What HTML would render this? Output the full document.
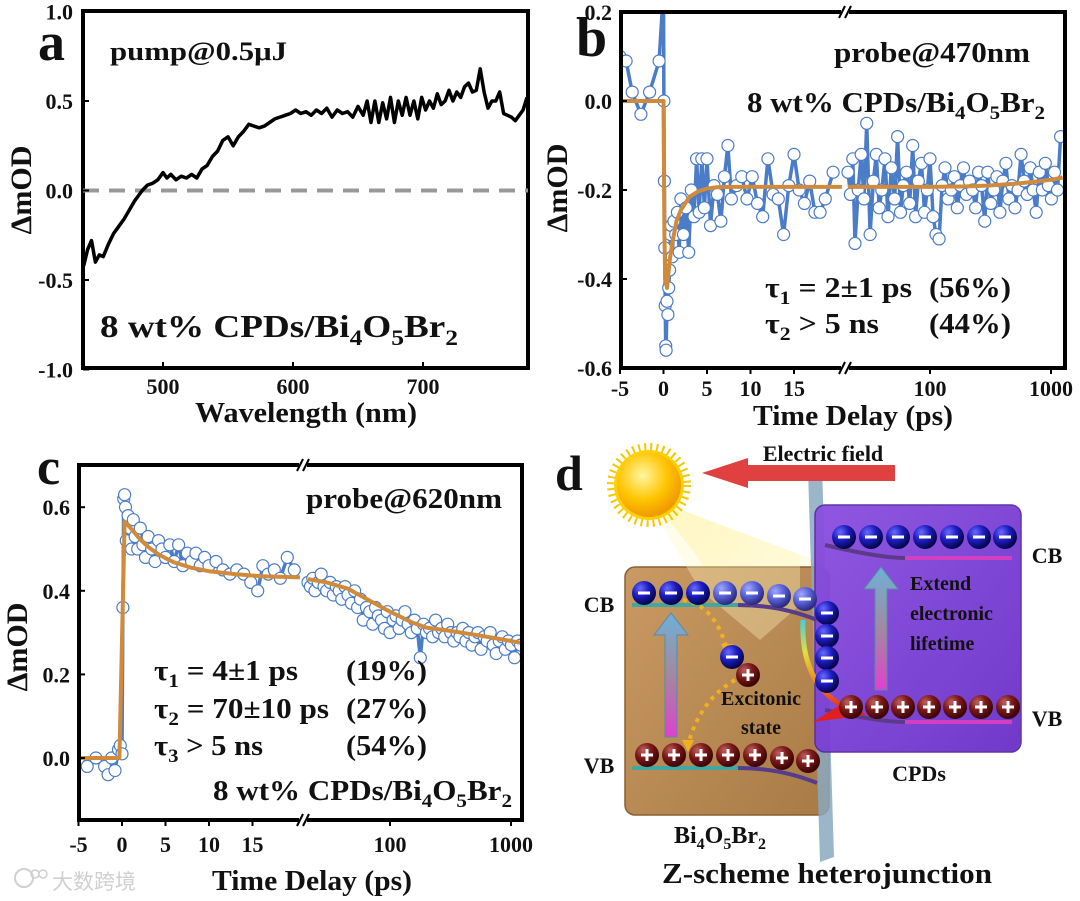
<!DOCTYPE html>
<html><head><meta charset="utf-8"><style>
html,body{margin:0;padding:0;background:#fff}
svg{display:block}
text{font-family:"Liberation Serif","Noto Serif CJK SC",serif;font-weight:bold;fill:#111}
</style></head><body>
<svg id="fig" width="1080" height="901" viewBox="0 0 1080 901" xmlns="http://www.w3.org/2000/svg">
<defs>
<clipPath id="clipA"><rect x="83" y="11" width="445" height="357"/></clipPath>
<clipPath id="clipB"><rect x="621" y="12" width="444" height="356"/></clipPath>
<clipPath id="clipC"><rect x="79" y="465" width="443" height="355"/></clipPath>
<radialGradient id="eg" cx="35%" cy="30%" r="70%"><stop offset="0" stop-color="#6a6aff"/><stop offset="0.5" stop-color="#1c1cc0"/><stop offset="1" stop-color="#05054a"/></radialGradient>
<radialGradient id="egl" cx="35%" cy="30%" r="70%"><stop offset="0" stop-color="#a0a8ff"/><stop offset="0.5" stop-color="#5a62d8"/><stop offset="1" stop-color="#2a2a80"/></radialGradient>
<radialGradient id="hg" cx="35%" cy="30%" r="70%"><stop offset="0" stop-color="#c06060"/><stop offset="0.5" stop-color="#7a1818"/><stop offset="1" stop-color="#3a0505"/></radialGradient>
<radialGradient id="sung" cx="40%" cy="35%" r="65%"><stop offset="0" stop-color="#fff6a0"/><stop offset="0.6" stop-color="#ffc400"/><stop offset="1" stop-color="#f09a00"/></radialGradient>
<linearGradient id="brown" x1="0" y1="0" x2="1" y2="1"><stop offset="0" stop-color="#c99a63"/><stop offset="1" stop-color="#a87a45"/></linearGradient>
<linearGradient id="purple" x1="0" y1="0" x2="1" y2="1"><stop offset="0" stop-color="#8a4fe0"/><stop offset="1" stop-color="#6a2fc8"/></linearGradient>
<linearGradient id="upar" x1="0" y1="1" x2="0" y2="0"><stop offset="0" stop-color="#e040d0"/><stop offset="0.5" stop-color="#a08aa0"/><stop offset="1" stop-color="#6fb0d8"/></linearGradient>
<linearGradient id="beam" x1="0" y1="0" x2="1" y2="1"><stop offset="0" stop-color="#fff2a0" stop-opacity="0.85"/><stop offset="1" stop-color="#fff8d0" stop-opacity="0.2"/></linearGradient>
<linearGradient id="rainbow" x1="0" y1="0" x2="0" y2="1"><stop offset="0" stop-color="#40d0e0"/><stop offset="0.35" stop-color="#e0e040"/><stop offset="0.7" stop-color="#f08020"/><stop offset="1" stop-color="#e02020"/></linearGradient>
</defs>

<g>
<text x="38" y="60" font-size="54">a</text>
<rect x="83" y="11" width="445" height="357" fill="none" stroke="#000" stroke-width="4"/>
<line x1="83" y1="190.5" x2="528" y2="190.5" stroke="#999" stroke-width="4" stroke-dasharray="16,10"/>
<g id="aTicks"></g>
<text x="110" y="60" font-size="26" textLength="177" lengthAdjust="spacingAndGlyphs">pump@0.5μJ</text>
<text x="100" y="337" font-size="32" textLength="358" lengthAdjust="spacingAndGlyphs">8 wt% CPDs/Bi<tspan font-size="22" dy="8">4</tspan><tspan dy="-8">O</tspan><tspan font-size="22" dy="8">5</tspan><tspan dy="-8">Br</tspan><tspan font-size="22" dy="8">2</tspan></text>
<text x="306" y="422" font-size="28" text-anchor="middle" textLength="222" lengthAdjust="spacingAndGlyphs">Wavelength (nm)</text>
<text transform="translate(31,190) rotate(-90)" font-size="30" text-anchor="middle">ΔmOD</text>
</g>

<g>
<text x="576" y="56" font-size="56">b</text>
<g id="bMarks"></g>
<rect x="621" y="12" width="444" height="356" fill="none" stroke="#000" stroke-width="4"/>
<g id="bTicks"></g>
<text x="834" y="62" font-size="28" textLength="196" lengthAdjust="spacingAndGlyphs">probe@470nm</text>
<text x="747" y="112" font-size="28" textLength="298" lengthAdjust="spacingAndGlyphs">8 wt% CPDs/Bi<tspan font-size="19" dy="7">4</tspan><tspan dy="-7">O</tspan><tspan font-size="19" dy="7">5</tspan><tspan dy="-7">Br</tspan><tspan font-size="19" dy="7">2</tspan></text>
<text x="765" y="297" font-size="28" textLength="147" lengthAdjust="spacingAndGlyphs">τ<tspan font-size="19" dy="7">1</tspan><tspan dy="-7"> = 2±1 ps</tspan></text>
<text x="929" y="297" font-size="28" textLength="82" lengthAdjust="spacingAndGlyphs">(56%)</text>
<text x="765" y="333" font-size="28" textLength="114" lengthAdjust="spacingAndGlyphs">τ<tspan font-size="19" dy="7">2</tspan><tspan dy="-7"> &gt; 5 ns</tspan></text>
<text x="929" y="333" font-size="28" textLength="82" lengthAdjust="spacingAndGlyphs">(44%)</text>
<text x="853" y="425" font-size="28" text-anchor="middle" textLength="200" lengthAdjust="spacingAndGlyphs">Time Delay (ps)</text>
<text transform="translate(567,188) rotate(-90)" font-size="30" text-anchor="middle">ΔmOD</text>
</g>

<g>
<text x="37" y="484" font-size="52">c</text>
<g id="cMarks"></g>
<rect x="79" y="465" width="443" height="355" fill="none" stroke="#000" stroke-width="4"/>
<g id="cTicks"></g>
<text x="306" y="508" font-size="28" textLength="196" lengthAdjust="spacingAndGlyphs">probe@620nm</text>
<text x="154" y="680" font-size="28" textLength="144" lengthAdjust="spacingAndGlyphs">τ<tspan font-size="19" dy="7">1</tspan><tspan dy="-7"> = 4±1 ps</tspan></text>
<text x="346" y="680" font-size="28" textLength="81" lengthAdjust="spacingAndGlyphs">(19%)</text>
<text x="154" y="718" font-size="28" textLength="175" lengthAdjust="spacingAndGlyphs">τ<tspan font-size="19" dy="7">2</tspan><tspan dy="-7"> = 70±10 ps</tspan></text>
<text x="346" y="718" font-size="28" textLength="81" lengthAdjust="spacingAndGlyphs">(27%)</text>
<text x="154" y="755" font-size="28" textLength="109" lengthAdjust="spacingAndGlyphs">τ<tspan font-size="19" dy="7">3</tspan><tspan dy="-7"> &gt; 5 ns</tspan></text>
<text x="346" y="755" font-size="28" textLength="81" lengthAdjust="spacingAndGlyphs">(54%)</text>
<text x="213" y="800" font-size="28" textLength="299" lengthAdjust="spacingAndGlyphs">8 wt% CPDs/Bi<tspan font-size="19" dy="7">4</tspan><tspan dy="-7">O</tspan><tspan font-size="19" dy="7">5</tspan><tspan dy="-7">Br</tspan><tspan font-size="19" dy="7">2</tspan></text>
<text x="312" y="890" font-size="28" text-anchor="middle" textLength="200" lengthAdjust="spacingAndGlyphs">Time Delay (ps)</text>
<text transform="translate(27,647) rotate(-90)" font-size="30" text-anchor="middle">ΔmOD</text>
<g opacity="0.55">
<circle cx="24" cy="878" r="9" fill="none" stroke="#aaa" stroke-width="2"/>
<circle cx="35" cy="874" r="4" fill="none" stroke="#aaa" stroke-width="1.5"/>
<circle cx="43" cy="874" r="4" fill="none" stroke="#aaa" stroke-width="1.5"/>
<text x="52" y="889" font-size="21" style="font-family:'Liberation Sans','Noto Sans CJK SC',sans-serif;font-weight:normal;fill:#aaa">大数跨境</text>
</g>
</g>

<g>
<text x="555" y="490" font-size="50">d</text>
<polygon points="630,470 668,505 815,560 815,600 780,620 760,680 700,560" fill="url(#beam)"/>
<rect x="625" y="567" width="204" height="248" rx="10" fill="url(#brown)" stroke="#8a6030" stroke-width="1.5"/>
<polygon points="630,470 668,505 800,555 800,605 760,640 700,590" fill="#fff6c0" opacity="0.35"/>
<polygon points="808,470 822,465 834,857 820,862" fill="#8aa8c0" opacity="0.85"/>
<rect x="815" y="505" width="206" height="247" rx="10" fill="url(#purple)" opacity="0.95" stroke="#5a2aa0" stroke-width="1.5"/>
<path d="M632,605 L738,605 Q780,605 817,620" fill="none" stroke="#40a8a0" stroke-width="4"/>
<path d="M738,605 Q780,605 817,620" fill="none" stroke="#5a3a8a" stroke-width="4"/>
<path d="M632,768 L738,768 Q780,768 817,783" fill="none" stroke="#40a8a0" stroke-width="4"/>
<path d="M738,768 Q780,768 817,783" fill="none" stroke="#5a3a8a" stroke-width="4"/>
<path d="M825,545 Q880,558 905,558 L1012,558" fill="none" stroke="#d040c0" stroke-width="4"/>
<path d="M825,545 Q880,558 905,558" fill="none" stroke="#5a3a8a" stroke-width="4"/>
<path d="M825,710 Q880,722 905,722 L1012,722" fill="none" stroke="#d040c0" stroke-width="4"/>
<path d="M825,710 Q880,722 905,722" fill="none" stroke="#5a3a8a" stroke-width="4"/>
<polygon points="665,737 677,737 677,635 688,635 671,613 654,635 665,635" fill="url(#upar)" stroke="#5a8aa8" stroke-width="1"/>
<polygon points="875,690 887,690 887,589 898,589 881,567 864,589 875,589" fill="url(#upar)" stroke="#5a8aa8" stroke-width="1"/>
<path d="M683,600 Q715,605 727,650" fill="none" stroke="#f0b020" stroke-width="4" stroke-dasharray="4,5"/>
<polygon points="721,644 733,644 727,656" fill="#f0b020"/>
<path d="M735,680 Q700,700 688,745" fill="none" stroke="#f0b020" stroke-width="4" stroke-dasharray="4,5"/>
<polygon points="682,740 694,740 688,752" fill="#f0b020"/>
<path d="M803,620 Q800,690 855,712" fill="none" stroke="url(#rainbow)" stroke-width="5"/>
<polygon points="848,700 866,715 813,722" fill="#e02020"/>
<polygon points="895,465 748,465 748,458 702,473 748,488 748,481 895,481" fill="#e04040"/>
<text x="823" y="461" font-size="22" text-anchor="middle">Electric field</text>
<g>
<circle cx="649" cy="485" r="38" fill="none" stroke="#f5c800" stroke-width="8" stroke-dasharray="2,4"/>
<circle cx="649" cy="485" r="35" fill="#ffd000"/>
<circle cx="649" cy="485" r="32" fill="url(#sung)"/>
</g>
<g id="carriers"></g>
<text x="599" y="612" font-size="22" text-anchor="middle">CB</text>
<text x="599" y="773" font-size="22" text-anchor="middle">VB</text>
<text x="1047" y="563" font-size="22" text-anchor="middle">CB</text>
<text x="1047" y="726" font-size="22" text-anchor="middle">VB</text>
<text x="910" y="590" font-size="20">Extend</text>
<text x="910" y="620" font-size="20">electronic</text>
<text x="910" y="650" font-size="20">lifetime</text>
<text x="761" y="705" font-size="20" text-anchor="middle">Excitonic</text>
<text x="761" y="734" font-size="20" text-anchor="middle">state</text>
<text x="919" y="781" font-size="22" text-anchor="middle">CPDs</text>
<text x="720" y="843" font-size="24" text-anchor="middle">Bi<tspan font-size="16" dy="6">4</tspan><tspan dy="-6">O</tspan><tspan font-size="16" dy="6">5</tspan><tspan dy="-6">Br</tspan><tspan font-size="16" dy="6">2</tspan></text>
<text x="827" y="883" font-size="28" text-anchor="middle" textLength="330" lengthAdjust="spacingAndGlyphs">Z-scheme heterojunction</text>
</g>
</svg>
<script>
const aWavelength = [439,442,445,448,451,454,458,462,466,470,474,478,481,484,488,492,496,500,503,506,510,514,518,522,526,530,534,538,542,546,550,554,558,562,566,570,574,578,582,586,590,594,598,602,606,610,614,618,622,626,630,634,638,642,646,650,654,657,660,663,666,669,672,675,678,681,684,687,690,693,696,699,702,705,708,711,714,717,720,723,726,729,732,735,738,741,744,747,750,753,756,759,762,765,768,771,774,777,780];
const aDeltaOD = [-0.42,-0.33,-0.28,-0.4,-0.36,-0.37,-0.3,-0.24,-0.2,-0.16,-0.11,-0.06,-0.03,0.0,0.03,0.04,0.06,0.1,0.07,0.09,0.06,0.08,0.07,0.09,0.07,0.12,0.14,0.19,0.22,0.28,0.3,0.25,0.3,0.33,0.37,0.36,0.35,0.36,0.38,0.4,0.41,0.42,0.43,0.45,0.43,0.44,0.42,0.45,0.43,0.46,0.41,0.45,0.43,0.44,0.41,0.47,0.42,0.5,0.38,0.5,0.38,0.49,0.4,0.52,0.38,0.5,0.42,0.52,0.42,0.5,0.4,0.52,0.45,0.5,0.46,0.54,0.48,0.5,0.56,0.5,0.55,0.52,0.58,0.6,0.55,0.56,0.68,0.55,0.46,0.5,0.5,0.55,0.43,0.42,0.41,0.39,0.42,0.45,0.52];
const aXTicks = [500,600,700];
const aYTicks = [1.0,0.5,0.0,-0.5,-1.0];

const bTimeLin = [-5,-4.3,-3.6,-2.6,-1.6,-0.5,0,0.05,0.1,0.15,0.2,0.25,0.3,0.4,0.5,0.6,0.7,0.8,0.9,1.0,1.2,1.4,1.6,1.8,2.0,2.3,2.6,2.9,3.2,3.5,3.8,4.1,4.4,4.7,5.0,5.4,5.8,6.2,6.6,7.0,7.4,7.8,8.4,9.0,9.6,10.2,10.8,11.4,12.0,12.6,13.2,13.8,14.4,15.0,15.6,16.2,16.8,17.4,18.0,18.6,19.5];
const bValLin = [0.1,0.09,0.02,-0.03,0.02,0.09,0.25,0.0,-0.18,-0.33,-0.46,-0.55,-0.56,-0.45,-0.48,-0.42,-0.38,-0.3,-0.28,-0.35,-0.27,-0.3,-0.25,-0.34,-0.22,-0.3,-0.24,-0.34,-0.2,-0.26,-0.13,-0.25,-0.13,-0.24,-0.13,-0.28,-0.19,-0.21,-0.27,-0.17,-0.1,-0.22,-0.19,-0.17,-0.22,-0.17,-0.23,-0.26,-0.13,-0.21,-0.22,-0.3,-0.19,-0.12,-0.2,-0.23,-0.18,-0.25,-0.25,-0.22,-0.16];
const bTimeLog = [21,22,23,24,25.5,27,28.5,30,32,34,36,38,40,42.5,45,48,51,54,57,60,64,68,72,76,80,85,90,95,100,106,112,119,126,133,141,150,159,168,178,189,200,212,225,238,252,267,283,300,318,337,357,378,400,424,449,476,504,534,566,600,636,673,713,755,800,848,898,951,1008,1068,1131,1200];
const bValLog = [-0.16,-0.21,-0.13,-0.32,-0.2,-0.12,-0.22,-0.05,-0.3,-0.18,-0.12,-0.24,-0.2,-0.13,-0.26,-0.15,-0.22,-0.08,-0.25,-0.19,-0.16,-0.23,-0.1,-0.26,-0.18,-0.14,-0.25,-0.2,-0.13,-0.26,-0.3,-0.31,-0.19,-0.15,-0.22,-0.2,-0.17,-0.24,-0.19,-0.15,-0.21,-0.18,-0.2,-0.24,-0.16,-0.19,-0.27,-0.16,-0.23,-0.2,-0.17,-0.25,-0.18,-0.14,-0.22,-0.19,-0.24,-0.2,-0.12,-0.18,-0.21,-0.15,-0.2,-0.25,-0.16,-0.2,-0.14,-0.19,-0.22,-0.16,-0.2,-0.08];
const bFitTimeLin = [-5,0,0.1,0.2,0.4,0.7,1,1.5,2,3,4,5,6,8,10,15,20.5];
const bFitValLin = [0,0,-0.3,-0.4,-0.42,-0.36,-0.32,-0.27,-0.245,-0.215,-0.203,-0.197,-0.194,-0.193,-0.193,-0.193,-0.193];
const bFitTimeLog = [20,50,100,200,300,500,700,1000,1250];
const bFitValLog = [-0.193,-0.193,-0.193,-0.192,-0.19,-0.186,-0.182,-0.177,-0.172];
const bYTicks = [0.2,0.0,-0.2,-0.4,-0.6];
const linTicks = [-5,0,5,10,15];
const logTicks = [100,1000];

const cTimeLin = [-5,-4,-3,-2,-1.6,-1.2,-0.8,-0.4,-0.2,0,0.1,0.2,0.3,0.4,0.5,0.7,0.9,1.1,1.3,1.5,1.8,2.1,2.4,2.7,3,3.4,3.8,4.2,4.6,5,5.5,6,6.5,7,7.5,8,8.5,9,9.5,10,10.8,11.6,12.4,13.2,14,14.8,15.6,16.2,16.8,17.5,18.2,19,19.8];
const cValLin = [-0.01,-0.02,0.0,-0.02,-0.04,0.0,-0.03,0.02,0.03,0.01,0.36,0.62,0.63,0.6,0.52,0.58,0.55,0.5,0.57,0.53,0.5,0.55,0.51,0.48,0.53,0.5,0.47,0.52,0.5,0.48,0.51,0.47,0.51,0.46,0.49,0.47,0.49,0.46,0.48,0.46,0.47,0.45,0.44,0.45,0.44,0.42,0.4,0.46,0.44,0.45,0.43,0.48,0.45];
const cTimeLog = bTimeLog;
const cValLog = [0.42,0.41,0.43,0.4,0.42,0.44,0.41,0.4,0.42,0.39,0.41,0.4,0.38,0.41,0.39,0.37,0.4,0.36,0.38,0.33,0.36,0.35,0.32,0.36,0.34,0.33,0.31,0.35,0.3,0.33,0.34,0.31,0.33,0.35,0.32,0.3,0.33,0.31,0.24,0.32,0.3,0.31,0.29,0.33,0.3,0.31,0.29,0.32,0.3,0.28,0.3,0.29,0.31,0.28,0.3,0.27,0.29,0.3,0.26,0.29,0.28,0.3,0.27,0.25,0.28,0.29,0.26,0.28,0.27,0.24,0.28,0.27];
const cFitTimeLin = [-5,-0.3,0.3,1,2,3,4,5,6,8,10,13,16,20.5];
const cFitValLin = [0,0,0.565,0.55,0.525,0.505,0.49,0.478,0.468,0.455,0.447,0.44,0.435,0.432];
const cFitTimeLog = [21,30,45,60,80,100,150,200,300,500,800,1250];
const cFitValLog = [0.428,0.42,0.405,0.385,0.365,0.35,0.325,0.312,0.305,0.295,0.285,0.275];
const cYTicks = [0.6,0.4,0.2,0.0];

const NS='http://www.w3.org/2000/svg';
function mk(tag, attrs, parent){const e=document.createElementNS(NS,tag);for(const k in attrs)e.setAttribute(k,attrs[k]);parent.appendChild(e);return e;}

const axA = {x:w=>163+(w-500)*1.3, y:v=>190.5-v*179};
const axB = {lin:t=>663.5+8.7*t, log:t=>930+121*Math.log10(t/100), y:v=>101-v*445};
const axC = {lin:t=>122+8.7*t, log:t=>390+121*Math.log10(t/100), y:v=>758-v*418};

(function(){
  const g=document.getElementById('aTicks');
  const root=document.getElementById('fig');
  let d='';
  aWavelength.forEach((w,i)=>{d+=(i?'L':'M')+axA.x(w).toFixed(1)+','+axA.y(aDeltaOD[i]).toFixed(1);});
  const p=mk('path',{d:d,fill:'none',stroke:'#000','stroke-width':3.5,'stroke-linejoin':'round','clip-path':'url(#clipA)'},root);
  
  
  aXTicks.forEach(w=>{
    const x=axA.x(w);
    mk('line',{x1:x,y1:368,x2:x,y2:362,stroke:'#000','stroke-width':2},g);
    const t=mk('text',{x:x,y:394,'font-size':22,'text-anchor':'middle'},g);
    t.textContent=w;
    
    
  });
  aYTicks.forEach(v=>{
    const y=axA.y(v);
    mk('line',{x1:83,y1:y,x2:89,y2:y,stroke:'#000','stroke-width':2},g);
    const t=mk('text',{x:73,y:y+8,'font-size':22,'text-anchor':'end'},g);
    t.textContent=v.toFixed(1);
    
    
  });
})();

function drawKinetics(gid, ticksId, ax, clip, frame, tL, vL, tG, vG, fTL, fVL, fTG, fVG, yTicks, yLabelX, xLabelY, breakX){
  const g=document.getElementById(gid);
  const tg=document.getElementById(ticksId);
  const segs=[[tL,vL,ax.lin],[tG,vG,ax.log]];
  segs.forEach(([ts,vs,fx])=>{
    let d='';const n=Math.min(ts.length,vs.length);
    for(let i=0;i<n;i++)d+=(i?'L':'M')+fx(ts[i]).toFixed(1)+','+ax.y(vs[i]).toFixed(1);
    const p=mk('path',{d:d,fill:'none',stroke:'#4a7cc8','stroke-width':3.5,'clip-path':'url(#'+clip+')'},g);
    
    
  });
  segs.forEach(([ts,vs,fx])=>{
    const n=Math.min(ts.length,vs.length);
    for(let i=0;i<n;i++){
      const c=mk('circle',{cx:fx(ts[i]).toFixed(1),cy:ax.y(vs[i]).toFixed(1),r:6,fill:'#fff',stroke:'#4a7cc8','stroke-width':1.2,'clip-path':'url(#'+clip+')'},g);
      
      
    }
  });
  [[fTL,fVL,ax.lin,frame.x0,breakX-3],[fTG,fVG,ax.log,breakX+3,frame.x1]].forEach(([ts,vs,fx,xa,xb])=>{
    let d='';
    ts.forEach((t,i)=>{const x=Math.max(xa,Math.min(xb,fx(t)));d+=(i?'L':'M')+x.toFixed(1)+','+ax.y(vs[i]).toFixed(1);});
    const p=mk('path',{d:d,fill:'none',stroke:'#d08a3a','stroke-width':4,'stroke-linejoin':'round','clip-path':'url(#'+clip+')'},g);
    
    
  });
  linTicks.forEach(t=>{
    const x=ax.lin(t);
    mk('line',{x1:x,y1:frame.y1,x2:x,y2:frame.y1+6,stroke:'#000','stroke-width':2},tg);
    const lb=mk('text',{x:x,y:xLabelY,'font-size':22,'text-anchor':'middle'},tg);
    lb.textContent=t;
    
    
  });
  logTicks.forEach(t=>{
    const x=ax.log(t);
    mk('line',{x1:x,y1:frame.y1,x2:x,y2:frame.y1+6,stroke:'#000','stroke-width':2},tg);
    const lb=mk('text',{x:x,y:xLabelY,'font-size':22,'text-anchor':'middle'},tg);
    lb.textContent=t;
    
    
  });
  yTicks.forEach(v=>{
    const y=ax.y(v);
    mk('line',{x1:frame.x0,y1:y,x2:frame.x0+6,y2:y,stroke:'#000','stroke-width':2},tg);
    const lb=mk('text',{x:yLabelX,y:y+8,'font-size':22,'text-anchor':'end'},tg);
    lb.textContent=v.toFixed(1);
    
    
  });
  [frame.y0,frame.y1].forEach(y=>{
    mk('rect',{x:breakX-4,y:y-4,width:8,height:8,fill:'#fff'},tg);
    mk('line',{x1:breakX-6,y1:y+6,x2:breakX,y2:y-6,stroke:'#000','stroke-width':2},tg);
    mk('line',{x1:breakX,y1:y+6,x2:breakX+6,y2:y-6,stroke:'#000','stroke-width':2},tg);
  });
}
drawKinetics('bMarks','bTicks',axB,'clipB',{x0:621,x1:1065,y0:12,y1:368},bTimeLin,bValLin,bTimeLog,bValLog,bFitTimeLin,bFitValLin,bFitTimeLog,bFitValLog,bYTicks,612,396,845);
drawKinetics('cMarks','cTicks',axC,'clipC',{x0:79,x1:522,y0:465,y1:820},cTimeLin,cValLin,cTimeLog,cValLog,cFitTimeLin,cFitValLin,cFitTimeLog,cFitValLog,cYTicks,70,852,303);

const cpdCbElectronX=[844,871,898,925,952,979,1005];
const biCbElectronX=[644,671,698,725,752,779,805];
const columnElectronY=[613,636,658,681];
const biVbHoleX=[647,674,701,728,755,782,808];
const cpdVbHoleX=[851,877,903,929,955,981,1008];
(function(){
  const g=document.getElementById('carriers');
  function ball(x,y,type,light){
    const c=mk('circle',{cx:x,cy:y,r:12,fill:type==='e'?(light?'url(#egl)':'url(#eg)'):'url(#hg)'},g);
    
    
    if(type==='e')mk('rect',{x:x-6,y:y-1.5,width:12,height:3,fill:'#fff'},g);
    else{mk('rect',{x:x-6,y:y-1.5,width:12,height:3,fill:'#fff'},g);mk('rect',{x:x-1.5,y:y-6,width:3,height:12,fill:'#fff'},g);}
  }
  cpdCbElectronX.forEach(x=>ball(x,537,'e'));
  biCbElectronX.forEach((x,i)=>ball(x,593+(i>4?(i-4)*3:0),'e',i>=3));
  columnElectronY.forEach(y=>ball(827,y,'e'));
  biVbHoleX.forEach((x,i)=>ball(x,755+(i>4?(i-4)*3:0),'h'));
  cpdVbHoleX.forEach(x=>ball(x,707,'h'));
  ball(732,657,'e');ball(748,675,'h');
})();
</script>
</body></html>
